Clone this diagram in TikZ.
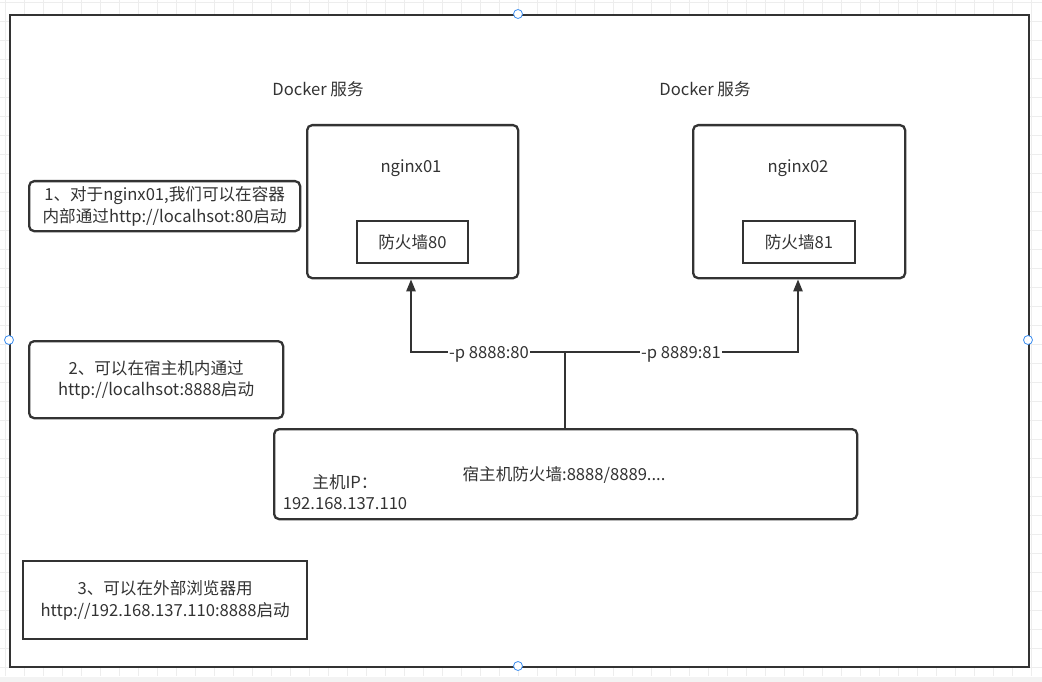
\documentclass[tikz,border=0pt]{standalone}
\usepackage{fontspec}
\setmainfont{Noto Sans CJK SC}
\usetikzlibrary{arrows.meta}
\definecolor{ink}{HTML}{333333}
\definecolor{gridc}{HTML}{EDEDED}
\definecolor{handle}{HTML}{3D8EF0}
\tikzset{
  x=1pt,y=-1pt,
  txt/.style={text=ink,font=\fontsize{16.6}{21.5}\selectfont,align=center,inner sep=0pt},
  rbox/.style={draw=ink,line width=2.3pt,rounded corners=5pt,fill=white},
  sbox/.style={draw=ink,line width=2.3pt,fill=white},
  conn/.style={draw=ink,line width=2.3pt},
  arr/.style={conn,-{Triangle[length=12pt,width=9pt]}},
  lbl/.style={txt,fill=white,inner sep=1pt},
  hnd/.style={circle,draw=handle,fill=white,line width=0.8pt,minimum size=9pt,inner sep=0pt}
}
\begin{document}
\begin{tikzpicture}
\useasboundingbox (0,0) rectangle (1042,682);
\fill[white] (0,0) rectangle (1042,682);
% grid
\foreach \gx in {5,24,...,1042} \draw[gridc,line width=0.8pt] (\gx,0) -- (\gx,676);
\foreach \gy in {2,21,...,676} \draw[gridc,line width=0.8pt] (0,\gy) -- (1042,\gy);
\fill[gridc!70] (0,677) rectangle (1042,682);
% outer frame
\node[sbox,minimum width=1019pt,minimum height=652pt,anchor=north west] (frame) at (9,14) {};
% docker labels
\node[txt] (d1) at (318,89) {Docker 服务};
\node[txt] (d2) at (705,89) {Docker 服务};
% nginx boxes
\node[rbox,minimum width=211pt,minimum height=153pt,anchor=north west] (n1) at (306,124) {};
\node[txt] (n1t) at (411,168) {nginx01};
\node[sbox,minimum width=111pt,minimum height=42pt] (f1) at (412.5,242) {};
\node[txt] at (f1) {防火墙80};
\node[rbox,minimum width=212pt,minimum height=153pt,anchor=north west] (n2) at (692,124) {};
\node[txt] (n2t) at (798,168) {nginx02};
\node[sbox,minimum width=112pt,minimum height=42pt] (f2) at (799,242) {};
\node[txt] at (f2) {防火墙81};
% notes
\node[rbox,minimum width=271pt,minimum height=50pt,anchor=north west] (c1) at (28,180) {};
\node[txt] at (c1) {1、对于nginx01,我们可以在容器\\内部通过http://localhsot:80启动};
\node[rbox,minimum width=254pt,minimum height=77pt,anchor=north west] (c2) at (28,340) {};
\node[txt] at (c2) {2、可以在宿主机内通过\\http://localhsot:8888启动};
\node[sbox,minimum width=284pt,minimum height=78pt,anchor=north west] (c3) at (22,560) {};
\node[txt] at (c3) {3、可以在外部浏览器用\\http://192.168.137.110:8888启动};
% host box
\node[rbox,minimum width=583pt,minimum height=90pt,anchor=north west] (h) at (273,428) {};
\node[txt] (ht) at (564,475) {宿主机防火墙:8888/8889....};
\node[txt] (hip) at (345,492) {主机IP：\\192.168.137.110};
% connectors
\coordinate (j) at (565,352);
\coordinate (l) at (411,352);
\coordinate (r) at (798,352);
\draw[conn] (h.north -| j) -- (j);
\draw[arr] (j) -- (l) -- (n1.south -| l);
\draw[arr] (j) -- (r) -- (n2.south -| r);
\node[lbl] (p1) at (489,354) {-p 8888:80};
\node[lbl] (p2) at (681,354) {-p 8889:81};
% selection handles
\node[hnd] at (518,14) {};
\node[hnd] at (9,340) {};
\node[hnd] at (1028,340) {};
\node[hnd] at (518,666) {};
\end{tikzpicture}
\end{document}
